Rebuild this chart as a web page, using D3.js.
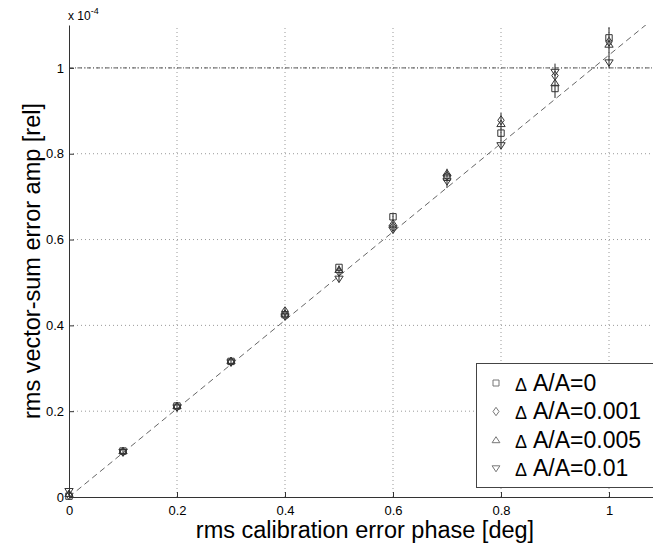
<!DOCTYPE html>
<html><head><meta charset="utf-8">
<script src="https://cdn.jsdelivr.net/npm/d3@7"></script>
<style>body{margin:0;background:#fff}svg{display:block;font-family:"Liberation Sans",Arial,sans-serif}</style>
</head><body><svg id="c" width="653" height="549"></svg>
<script>
const xs = [0,0.1,0.2,0.3,0.4,0.5,0.6,0.7,0.8,0.9,1.0];
const s0    = [0.002,0.107,0.212,0.316,0.425,0.535,0.653,0.745,0.848,0.952,1.070];
const s001  = [0.004,0.105,0.210,0.315,0.433,0.525,0.630,0.748,0.878,0.982,1.061];
const s005  = [0.008,0.108,0.213,0.318,0.428,0.530,0.638,0.755,0.870,0.965,1.055];
const s01   = [0.013,0.104,0.208,0.313,0.420,0.508,0.622,0.735,0.819,0.990,1.012];
const errLo = [0.000,0.100,0.205,0.310,0.415,0.500,0.615,0.720,0.810,0.930,1.000];
const errHi = [0.015,0.112,0.218,0.322,0.440,0.540,0.660,0.765,0.895,1.010,1.095];
const fitSlope = 1.03;
const xTicks = [0,0.2,0.4,0.6,0.8,1];
const yTicks = [0,0.2,0.4,0.6,0.8,1];
const legendLabels = ["A/A=0","A/A=0.001","A/A=0.005","A/A=0.01"];
const series = [s0,s001,s005,s01];
const shapes = ["square","diamond","up","down"];

const svg = d3.select("#c");
const L=69, R=663, T=25, B=497;
const x = d3.scaleLinear().domain([0,1.1]).range([L,R]);
const y = d3.scaleLinear().domain([0,1.1]).range([B,T]);
const axisCol = "#333";

// grid
const g = svg.append("g");
xTicks.filter(d=>d>0).forEach(d=>g.append("line").attr("x1",x(d)).attr("x2",x(d)).attr("y1",B).attr("y2",T)
  .attr("stroke","#999").attr("stroke-dasharray","1,3"));
yTicks.filter(d=>d>0).forEach(d=>g.append("line").attr("x1",L).attr("x2",R).attr("y1",y(d)).attr("y2",y(d))
  .attr("stroke","#999").attr("stroke-dasharray","1,3"));
// threshold line at 1e-4
svg.append("line").attr("x1",L).attr("x2",R).attr("y1",y(1)).attr("y2",y(1))
  .attr("stroke","#555").attr("stroke-dasharray","4,2,1,2");

// clip
svg.append("clipPath").attr("id","cp").append("rect").attr("x",L).attr("y",T).attr("width",R-L).attr("height",B-T);
// fit line
svg.append("line").attr("clip-path","url(#cp)")
  .attr("x1",x(0)).attr("y1",y(0)).attr("x2",x(1.1)).attr("y2",y(1.1*fitSlope))
  .attr("stroke","#666").attr("stroke-dasharray","6,4");

// axes
const xa = svg.append("g").attr("transform",`translate(0,${B})`)
  .call(d3.axisBottom(x).tickValues(xTicks).tickFormat(d3.format("~g")).tickSizeInner(-5).tickSizeOuter(0).tickPadding(9));
const ya = svg.append("g").attr("transform",`translate(${L},0)`)
  .call(d3.axisLeft(y).tickValues(yTicks).tickFormat(d3.format("~g")).tickSizeInner(-5).tickSizeOuter(0).tickPadding(5));
[xa,ya].forEach(a=>{
  a.select(".domain").attr("stroke",axisCol);
  a.selectAll(".tick line").attr("stroke",axisCol);
  a.selectAll("text").attr("fill","#000").style("font-size","13px").style("font-family","Liberation Sans, Arial, sans-serif");
});

// exponent label
const ex = svg.append("text").attr("x",68).attr("y",20).style("font-size","12px").attr("fill","#000");
ex.append("tspan").text("x 10");
ex.append("tspan").attr("dy",-6).style("font-size","9px").text("-4");

// axis titles
svg.append("text").attr("x",365).attr("y",538).attr("text-anchor","middle").style("font-size","23.5px").text("rms calibration error phase [deg]");
svg.append("text").attr("transform",`translate(40,${(T+B)/2}) rotate(-90)`).attr("text-anchor","middle").style("font-size","23.5px").text("rms vector-sum error amp [rel]");

// error bars
const eb = svg.append("g");
xs.forEach((d,i)=>eb.append("line").attr("x1",x(d)).attr("x2",x(d)).attr("y1",y(errLo[i])).attr("y2",y(errHi[i]))
  .attr("stroke","#222").attr("stroke-width",1));

function marker(sel, shape, cx, cy, s){
  let p;
  if(shape==="square") p=`M${cx-s},${cy-s}h${2*s}v${2*s}h${-2*s}Z`;
  else if(shape==="diamond") p=`M${cx},${cy-s*1.4}L${cx+s},${cy}L${cx},${cy+s*1.4}L${cx-s},${cy}Z`;
  else if(shape==="up") p=`M${cx},${cy-s*1.1}L${cx+s*1.3},${cy+s*0.9}L${cx-s*1.3},${cy+s*0.9}Z`;
  else p=`M${cx},${cy+s*1.1}L${cx+s*1.3},${cy-s*0.9}L${cx-s*1.3},${cy-s*0.9}Z`;
  return sel.append("path").attr("d",p);
}
const mk = svg.append("g");
series.forEach((sv,k)=>{
  xs.forEach((d,i)=>marker(mk,shapes[k],x(d),y(sv[i]),3.2).attr("fill","none").attr("stroke","#333").attr("stroke-width",1));
});

// legend
const lg = svg.append("g");
lg.append("rect").attr("x",476.5).attr("y",363.5).attr("width",200).attr("height",124).attr("fill","#fff").attr("stroke","#444");
legendLabels.forEach((t,k)=>{
  const cy = 383 + k*28.5;
  marker(lg,shapes[k],496,cy,3).attr("fill","none").attr("stroke","#777");
  const tx = lg.append("text").attr("x",515).attr("y",cy+7.5).style("font-size","23px");
  tx.append("tspan").style("font-size","18px").text("\u0394");
  tx.append("tspan").attr("dx",6).text(t);
});
</script></body></html>
